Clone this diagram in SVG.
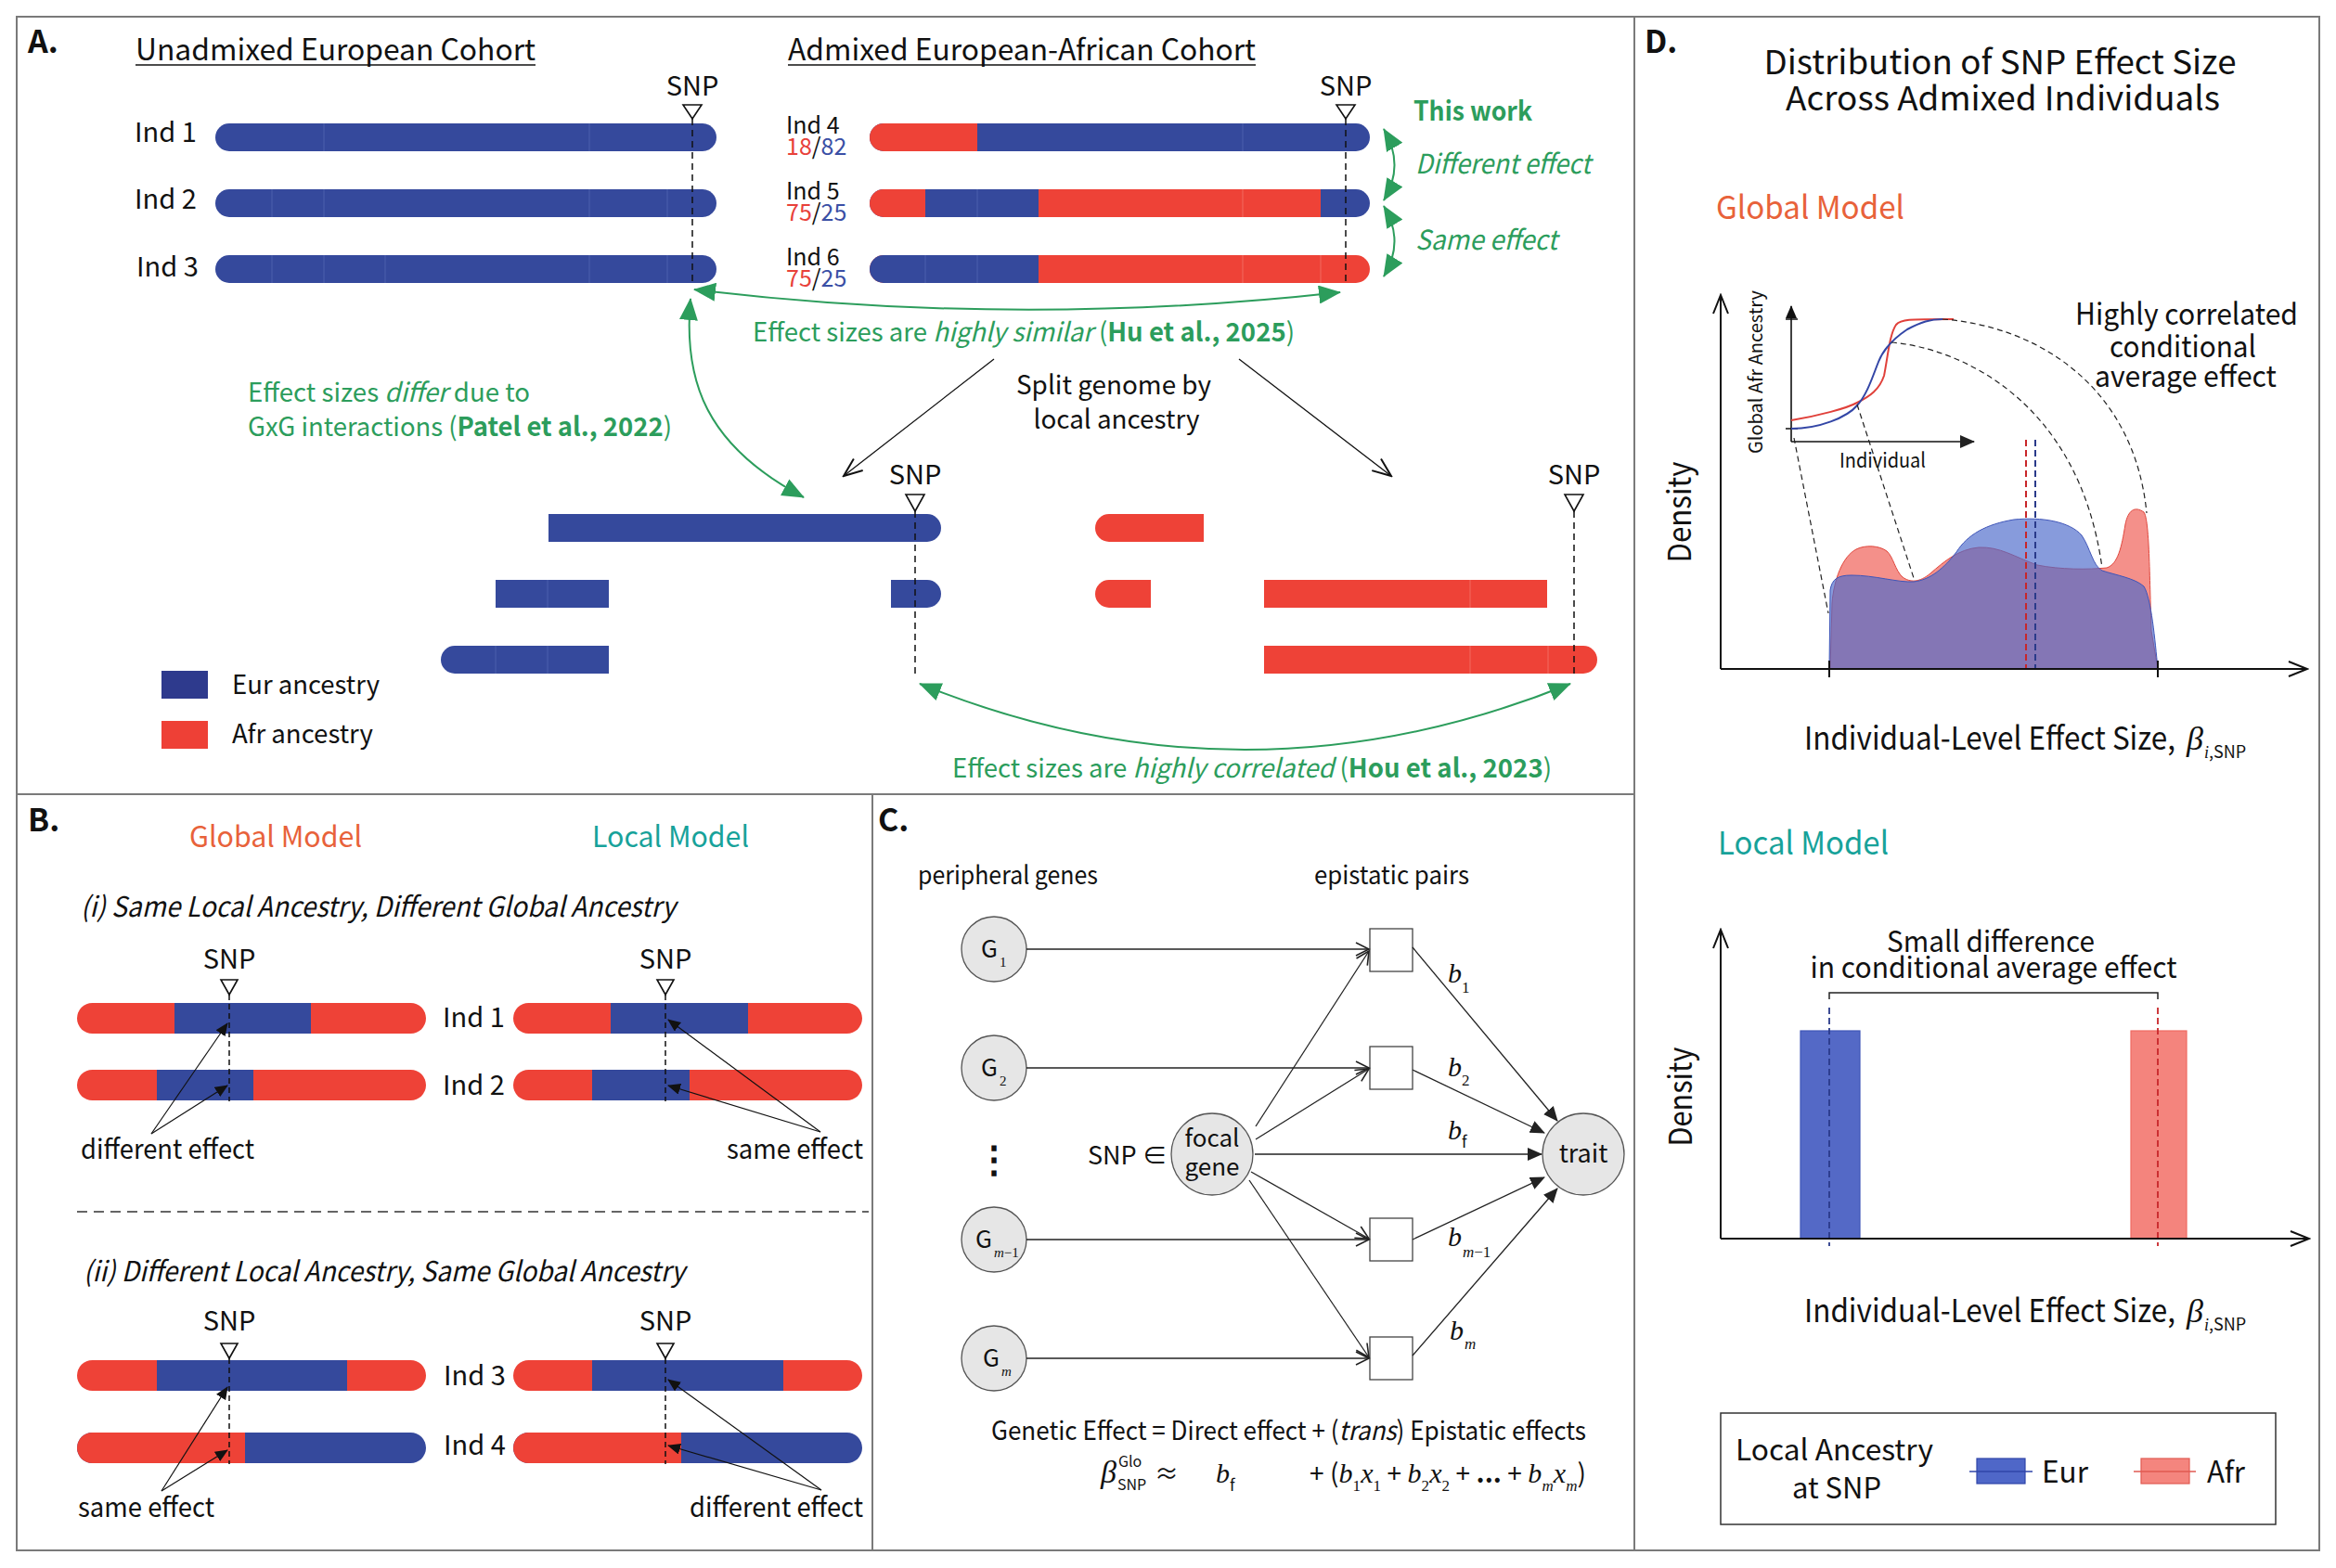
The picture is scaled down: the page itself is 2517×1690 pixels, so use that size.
<svg xmlns="http://www.w3.org/2000/svg" width="2517" height="1690" viewBox="0 0 2517 1690">
<style>
text{font-family:"Noto Sans CJK SC","Source Sans Pro",Lato,sans-serif;fill:#111}
.g{fill:#2C9D5C}
.it{font-style:italic}
.b{font-weight:bold}
.m{font-family:"Liberation Serif",serif;font-style:italic}
.mr{font-family:"Liberation Serif",serif;font-style:normal}
.sn{font-family:"Noto Sans CJK SC","Source Sans Pro",Lato,sans-serif;font-style:normal}
.eu{fill:#35499C}
.af{fill:#EE4237}
.seu{stroke:#4d60ad;stroke-width:1}
.saf{stroke:#f26a60;stroke-width:1}
.dash{stroke:#111;stroke-width:1.5;stroke-dasharray:7 5;fill:none}
.tri{fill:#fff;stroke:#111;stroke-width:1.6}
.frame{stroke:#7a7a7a;stroke-width:2;fill:none}
.garc{stroke:#2C9D5C;stroke-width:2;fill:none;marker-start:url(#ga);marker-end:url(#ga)}
.bl{stroke:#222;stroke-width:1.3;fill:none}
</style>
<defs>
<marker id="ga" markerUnits="userSpaceOnUse" markerWidth="24" markerHeight="20" viewBox="0 0 24 20" refX="23" refY="10" orient="auto-start-reverse"><path d="M0,0 L24,10 L0,20 Z" fill="#2C9D5C"/></marker>
<marker id="chev" markerUnits="userSpaceOnUse" markerWidth="18" markerHeight="18" viewBox="0 0 18 18" refX="16" refY="9" orient="auto"><path d="M2,2 L16,9 L2,16" fill="none" stroke="#222" stroke-width="1.6"/></marker>
<marker id="tri" markerUnits="userSpaceOnUse" markerWidth="14" markerHeight="12" viewBox="0 0 14 12" refX="13" refY="6" orient="auto"><path d="M0,0 L14,6 L0,12 Z" fill="#111"/></marker>
<marker id="tri2" markerUnits="userSpaceOnUse" markerWidth="16" markerHeight="16" viewBox="0 0 16 16" refX="15" refY="8" orient="auto"><path d="M0,1 L16,8 L0,15 Z" fill="#222"/></marker>
<marker id="achev" markerUnits="userSpaceOnUse" markerWidth="26" markerHeight="20" viewBox="0 0 26 20" refX="24" refY="10" orient="auto"><path d="M4,2 L24,10 L4,18" fill="none" stroke="#111" stroke-width="2"/></marker>
<clipPath id="cA1"><rect x="232" y="133" width="540" height="30" rx="15"/></clipPath>
<clipPath id="cA2"><rect x="232" y="204" width="540" height="30" rx="15"/></clipPath>
<clipPath id="cA3"><rect x="232" y="275" width="540" height="30" rx="15"/></clipPath>
<clipPath id="cA4"><rect x="937" y="133" width="539" height="30" rx="15"/></clipPath>
<clipPath id="cA5"><rect x="937" y="204" width="539" height="30" rx="15"/></clipPath>
<clipPath id="cA6"><rect x="937" y="275" width="539" height="30" rx="15"/></clipPath>
<clipPath id="cBL1"><rect x="83" y="1081" width="376" height="33" rx="16.5"/></clipPath>
<clipPath id="cBL2"><rect x="83" y="1153" width="376" height="33" rx="16.5"/></clipPath>
<clipPath id="cBL3"><rect x="83" y="1466" width="376" height="33" rx="16.5"/></clipPath>
<clipPath id="cBL4"><rect x="83" y="1544" width="376" height="33" rx="16.5"/></clipPath>
<clipPath id="cBR1"><rect x="553" y="1081" width="376" height="33" rx="16.5"/></clipPath>
<clipPath id="cBR2"><rect x="553" y="1153" width="376" height="33" rx="16.5"/></clipPath>
<clipPath id="cBR3"><rect x="553" y="1466" width="376" height="33" rx="16.5"/></clipPath>
<clipPath id="cBR4"><rect x="553" y="1544" width="376" height="33" rx="16.5"/></clipPath>
</defs>
<rect width="2517" height="1690" fill="#fff"/>

<!-- frames -->
<g id="frames">
<rect class="frame" x="18" y="18" width="2481" height="1653"/>
<line class="frame" x1="1761" y1="18" x2="1761" y2="1671"/>
<line class="frame" x1="18" y1="856" x2="1761" y2="856"/>
<line class="frame" x1="940" y1="856" x2="940" y2="1671"/>
</g>

<!-- ===== Panel A ===== -->
<g id="panelA">
<text x="30" y="57" font-size="34" class="b">A.</text>
<text x="146" y="65" font-size="32" textLength="431" lengthAdjust="spacingAndGlyphs">Unadmixed European Cohort</text>
<line x1="146" y1="70" x2="577" y2="70" stroke="#111" stroke-width="1.5"/>
<text x="849" y="65" font-size="32" textLength="504" lengthAdjust="spacingAndGlyphs">Admixed European-African Cohort</text>
<line x1="849" y1="70" x2="1353" y2="70" stroke="#111" stroke-width="1.5"/>

<g id="unadmixed">
<text x="145" y="153" font-size="29">Ind 1</text>
<text x="145" y="225" font-size="29">Ind 2</text>
<text x="147" y="298" font-size="29">Ind 3</text>
<g clip-path="url(#cA1)"><rect class="eu" x="232" y="133" width="540" height="30"/><path class="seu" d="M349,133V163M635,133V163"/></g>
<g clip-path="url(#cA2)"><rect class="eu" x="232" y="204" width="540" height="30"/><path class="seu" d="M293,204V234M349,204V234M635,204V234M719,204V234"/></g>
<g clip-path="url(#cA3)"><rect class="eu" x="232" y="275" width="540" height="30"/><path class="seu" d="M293,275V305M349,275V305M415,275V305M635,275V305M719,275V305"/></g>
<text x="746" y="103" font-size="29" text-anchor="middle">SNP</text>
<path class="tri" d="M736,113 L756,113 L746,128 Z"/>
<line class="dash" x1="746" y1="128" x2="746" y2="305"/>
</g>

<g id="admixed">
<text x="847" y="144" font-size="25">Ind 4</text>
<text x="847" y="167" font-size="25"><tspan fill="#E8413A" style="fill:#E8413A">18</tspan>/<tspan style="fill:#3A4FA5">82</tspan></text>
<text x="847" y="215" font-size="25">Ind 5</text>
<text x="847" y="238" font-size="25"><tspan style="fill:#E8413A">75</tspan>/<tspan style="fill:#3A4FA5">25</tspan></text>
<text x="847" y="286" font-size="25">Ind 6</text>
<text x="847" y="309" font-size="25"><tspan style="fill:#E8413A">75</tspan>/<tspan style="fill:#3A4FA5">25</tspan></text>
<g clip-path="url(#cA4)"><rect class="eu" x="937" y="133" width="539" height="30"/><rect class="af" x="937" y="133" width="116" height="30"/><path class="seu" d="M1339,133V163"/></g>
<g clip-path="url(#cA5)"><rect class="eu" x="937" y="204" width="539" height="30"/><rect class="af" x="937" y="204" width="60" height="30"/><rect class="af" x="1119" y="204" width="304" height="30"/><path class="seu" d="M1053,204V234"/><path class="saf" d="M1339,204V234"/></g>
<g clip-path="url(#cA6)"><rect class="af" x="937" y="275" width="539" height="30"/><rect class="eu" x="937" y="275" width="182" height="30"/><path class="seu" d="M997,275V305M1053,275V305"/><path class="saf" d="M1339,275V305M1423,275V305"/></g>
<text x="1450" y="103" font-size="29" text-anchor="middle">SNP</text>
<path class="tri" d="M1440,113 L1460,113 L1450,128 Z"/>
<line class="dash" x1="1450" y1="128" x2="1450" y2="305"/>
<text x="1523" y="130" font-size="29" class="g b" textLength="128" lengthAdjust="spacingAndGlyphs">This work</text>
<text x="1525" y="187" font-size="29" class="g it" textLength="189" lengthAdjust="spacingAndGlyphs">Different effect</text>
<text x="1525" y="269" font-size="29" class="g it" textLength="153" lengthAdjust="spacingAndGlyphs">Same effect</text>
</g>

<g id="split">
<path class="eu" d="M591,554 H999 A15,15 0 0 1 999,584 H591 Z"/>
<path class="af" d="M1195,554 H1297 V584 H1195 A15,15 0 0 1 1195,554 Z"/>
<rect class="eu" x="534" y="625" width="122" height="30"/><path class="seu" d="M590,625V655"/>
<path class="eu" d="M960,625 H999 A15,15 0 0 1 999,655 H960 Z"/>
<path class="af" d="M1195,625 H1240 V655 H1195 A15,15 0 0 1 1195,625 Z"/>
<rect class="af" x="1362" y="625" width="305" height="30"/><path class="saf" d="M1584,625V655"/>
<path class="eu" d="M490,696 H656 V726 H490 A15,15 0 0 1 490,696 Z"/><path class="seu" d="M534,696V726M590,696V726"/>
<path class="af" d="M1362,696 H1706 A15,15 0 0 1 1706,726 H1362 Z"/><path class="saf" d="M1584,696V726M1668,696V726"/>
<text x="986" y="522" font-size="29" text-anchor="middle">SNP</text>
<path class="tri" d="M976,533 L996,533 L986,551 Z"/>
<line class="dash" x1="986" y1="551" x2="986" y2="727"/>
<text x="1696" y="522" font-size="29" text-anchor="middle">SNP</text>
<path class="tri" d="M1686,533 L1706,533 L1696,551 Z"/>
<line class="dash" x1="1696" y1="551" x2="1696" y2="727"/>
</g>

<g id="legendA">
<rect x="174" y="723" width="50" height="30" fill="#2E3A8D"/>
<text x="250" y="748" font-size="28" textLength="159" lengthAdjust="spacingAndGlyphs">Eur ancestry</text>
<rect x="174" y="777" width="50" height="30" fill="#EE4036"/>
<text x="250" y="801" font-size="28" textLength="152" lengthAdjust="spacingAndGlyphs">Afr ancestry</text>
</g>

<g id="labelsA">
<text x="811" y="368" font-size="28" class="g" textLength="584" lengthAdjust="spacingAndGlyphs">Effect sizes are <tspan class="it">highly similar</tspan> (<tspan class="b">Hu et al., 2025</tspan>)</text>
<text x="267" y="433" font-size="28" class="g" textLength="304" lengthAdjust="spacingAndGlyphs">Effect sizes <tspan class="it">differ</tspan> due to</text>
<text x="267" y="470" font-size="28" class="g" textLength="457" lengthAdjust="spacingAndGlyphs">GxG interactions (<tspan class="b">Patel et al., 2022</tspan>)</text>
<text x="1200" y="425" font-size="28" text-anchor="middle" textLength="210" lengthAdjust="spacingAndGlyphs">Split genome by</text>
<text x="1203" y="462" font-size="28" text-anchor="middle" textLength="179" lengthAdjust="spacingAndGlyphs">local ancestry</text>
<text x="1026" y="838" font-size="28" class="g" textLength="646" lengthAdjust="spacingAndGlyphs">Effect sizes are <tspan class="it">highly correlated</tspan> (<tspan class="b">Hou et al., 2023</tspan>)</text>
</g>
</g>

<g id="connectorsA">
<path class="garc" d="M1491,139 Q1514,178 1491,216"/>
<path class="garc" d="M1491,222 Q1514,260 1491,298"/>
<path class="garc" d="M748,312 Q1095,354 1444,315"/>
<path class="garc" d="M744,322 C736,410 760,480 866,536"/>
<path class="garc" d="M991,737 Q1341,879 1692,737"/>
<path d="M1071,387 L909,513" stroke="#111" stroke-width="1.3" fill="none" marker-end="url(#achev)"/>
<path d="M1335,387 L1499,513" stroke="#111" stroke-width="1.3" fill="none" marker-end="url(#achev)"/>
</g>

<!-- ===== Panel B ===== -->
<g id="panelB">
<text x="30" y="896" font-size="34" class="b">B.</text>
<text x="204" y="913" font-size="31" style="fill:#E8623A" textLength="186" lengthAdjust="spacingAndGlyphs">Global Model</text>
<text x="638" y="913" font-size="31" style="fill:#17A29A" textLength="169" lengthAdjust="spacingAndGlyphs">Local Model</text>
<text x="87" y="988" font-size="30" class="it" textLength="641" lengthAdjust="spacingAndGlyphs">(i) Same Local Ancestry, Different Global Ancestry</text>
<text x="90" y="1381" font-size="30" class="it" textLength="648" lengthAdjust="spacingAndGlyphs">(ii) Different Local Ancestry, Same Global Ancestry</text>
<line x1="83" y1="1306" x2="936" y2="1306" stroke="#333" stroke-width="1.5" stroke-dasharray="11 7"/>

<g id="B-i">
<text x="247" y="1044" font-size="29" text-anchor="middle">SNP</text>
<path class="tri" d="M238,1056 L256,1056 L247,1072 Z"/>
<text x="717" y="1044" font-size="29" text-anchor="middle">SNP</text>
<path class="tri" d="M708,1056 L726,1056 L717,1072 Z"/>
<g clip-path="url(#cBL1)"><rect class="af" x="83" y="1081" width="376" height="33"/><rect class="eu" x="188" y="1081" width="147" height="33"/></g>
<g clip-path="url(#cBL2)"><rect class="af" x="83" y="1153" width="376" height="33"/><rect class="eu" x="169" y="1153" width="104" height="33"/></g>
<g clip-path="url(#cBR1)"><rect class="af" x="553" y="1081" width="376" height="33"/><rect class="eu" x="658" y="1081" width="148" height="33"/></g>
<g clip-path="url(#cBR2)"><rect class="af" x="553" y="1153" width="376" height="33"/><rect class="eu" x="638" y="1153" width="105" height="33"/></g>
<line class="dash" x1="247" y1="1072" x2="247" y2="1187" style="stroke-dasharray:6 4"/>
<line class="dash" x1="717" y1="1072" x2="717" y2="1187" style="stroke-dasharray:6 4"/>
<text x="477" y="1107" font-size="29">Ind 1</text>
<text x="477" y="1180" font-size="29">Ind 2</text>
<text x="87" y="1249" font-size="29" textLength="187" lengthAdjust="spacingAndGlyphs">different effect</text>
<text x="783" y="1249" font-size="29" textLength="147" lengthAdjust="spacingAndGlyphs">same effect</text>
</g>

<g id="B-ii">
<text x="247" y="1434" font-size="29" text-anchor="middle">SNP</text>
<path class="tri" d="M238,1448 L256,1448 L247,1464 Z"/>
<text x="717" y="1434" font-size="29" text-anchor="middle">SNP</text>
<path class="tri" d="M708,1448 L726,1448 L717,1464 Z"/>
<g clip-path="url(#cBL3)"><rect class="af" x="83" y="1466" width="376" height="33"/><rect class="eu" x="169" y="1466" width="205" height="33"/></g>
<g clip-path="url(#cBL4)"><rect class="eu" x="83" y="1544" width="376" height="33"/><rect class="af" x="83" y="1544" width="181" height="33"/></g>
<g clip-path="url(#cBR3)"><rect class="af" x="553" y="1466" width="376" height="33"/><rect class="eu" x="638" y="1466" width="206" height="33"/></g>
<g clip-path="url(#cBR4)"><rect class="eu" x="553" y="1544" width="376" height="33"/><rect class="af" x="553" y="1544" width="181" height="33"/></g>
<line class="dash" x1="247" y1="1464" x2="247" y2="1578" style="stroke-dasharray:6 4"/>
<line class="dash" x1="717" y1="1464" x2="717" y2="1578" style="stroke-dasharray:6 4"/>
<text x="478" y="1493" font-size="29">Ind 3</text>
<text x="478" y="1568" font-size="29">Ind 4</text>
<text x="84" y="1635" font-size="29" textLength="147" lengthAdjust="spacingAndGlyphs">same effect</text>
<text x="743" y="1635" font-size="29" textLength="187" lengthAdjust="spacingAndGlyphs">different effect</text>
</g>
</g>

<g id="connectorsB" stroke="#111" stroke-width="1.2" fill="none" marker-end="url(#tri)">
<path d="M163,1222 L245,1103"/>
<path d="M163,1222 L245,1170"/>
<path d="M884,1220 L720,1099"/>
<path d="M884,1220 L720,1170"/>
<path d="M174,1607 L245,1495"/>
<path d="M174,1607 L245,1563"/>
<path d="M885,1606 L720,1487"/>
<path d="M885,1606 L720,1558"/>
</g>

<!-- ===== Panel C ===== -->
<g id="panelC">
<text x="946" y="896" font-size="34" class="b">C.</text>
<text x="989" y="953" font-size="27" textLength="194" lengthAdjust="spacingAndGlyphs">peripheral genes</text>
<text x="1416" y="953" font-size="27" textLength="167" lengthAdjust="spacingAndGlyphs">epistatic pairs</text>
<text x="1172" y="1255" font-size="27">SNP ∈</text>
<text x="1071" y="1263" font-size="40" text-anchor="middle" font-weight="bold">⋮</text>
</g>
<g id="nodeG1"><circle cx="1071" cy="1023" r="35" fill="#E6E6E6" stroke="#555" stroke-width="1.3"/><text x="1057" y="1032" font-size="26">G<tspan class="mr" font-size="15" dx="2" dy="10">1</tspan></text></g>
<g id="nodeG2"><circle cx="1071" cy="1151" r="35" fill="#E6E6E6" stroke="#555" stroke-width="1.3"/><text x="1057" y="1160" font-size="26">G<tspan class="mr" font-size="15" dx="2" dy="10">2</tspan></text></g>
<g id="nodeGm1"><circle cx="1071" cy="1336" r="35" fill="#E6E6E6" stroke="#555" stroke-width="1.3"/><text x="1051" y="1345" font-size="26">G<tspan class="m" font-size="15" dx="2" dy="10">m</tspan><tspan class="mr" font-size="15">−1</tspan></text></g>
<g id="nodeGm"><circle cx="1071" cy="1464" r="35" fill="#E6E6E6" stroke="#555" stroke-width="1.3"/><text x="1059" y="1473" font-size="26">G<tspan class="m" font-size="15" dx="2" dy="10">m</tspan></text></g>
<g id="nodeFocal"><circle cx="1306" cy="1244" r="44" fill="#E6E6E6" stroke="#555" stroke-width="1.3"/><text x="1306" y="1236" font-size="26" text-anchor="middle">focal</text><text x="1306" y="1267" font-size="26" text-anchor="middle">gene</text></g>
<g id="nodeTrait"><circle cx="1706" cy="1244" r="44" fill="#E6E6E6" stroke="#555" stroke-width="1.3"/><text x="1706" y="1253" font-size="27" text-anchor="middle">trait</text></g>
<g id="nodeSq1"><rect x="1476" y="1001" width="46" height="46" fill="#fff" stroke="#444" stroke-width="1.3"/></g>
<g id="nodeSq2"><rect x="1476" y="1128" width="46" height="46" fill="#fff" stroke="#444" stroke-width="1.3"/></g>
<g id="nodeSq3"><rect x="1476" y="1313" width="46" height="46" fill="#fff" stroke="#444" stroke-width="1.3"/></g>
<g id="nodeSq4"><rect x="1476" y="1441" width="46" height="46" fill="#fff" stroke="#444" stroke-width="1.3"/></g>

<g id="connectorsC">
<g class="bl" marker-end="url(#chev)">
<path d="M1106,1023 H1475"/>
<path d="M1106,1151 H1475"/>
<path d="M1106,1336 H1475"/>
<path d="M1106,1464 H1475"/>
<path d="M1353,1214 L1475,1025"/>
<path d="M1353,1228 L1475,1152"/>
<path d="M1348,1263 L1475,1335"/>
<path d="M1346,1272 L1475,1463"/>
</g>
<g class="bl" marker-end="url(#tri2)">
<path d="M1352,1244 H1661"/>
<path d="M1522,1021 L1678,1208"/>
<path d="M1522,1153 L1664,1221"/>
<path d="M1522,1336 L1664,1269"/>
<path d="M1522,1461 L1678,1281"/>
</g>
</g>
<g id="blabels">
<text x="1560" y="1059" font-size="30" class="m">b<tspan class="mr" font-size="17" dx="0" dy="11">1</tspan></text>
<text x="1560" y="1160" font-size="30" class="m">b<tspan class="mr" font-size="17" dy="10">2</tspan></text>
<text x="1560" y="1228" font-size="30" class="m">b<tspan class="sn" font-size="17" dy="9">f</tspan></text>
<text x="1560" y="1343" font-size="30" class="m">b<tspan font-size="17" dx="1" dy="12">m</tspan><tspan class="mr" font-size="17">−1</tspan></text>
<text x="1562" y="1444" font-size="30" class="m">b<tspan font-size="17" dx="1" dy="10">m</tspan></text>
</g>
<g id="equation">
<text x="1068" y="1552" font-size="28" textLength="641" lengthAdjust="spacingAndGlyphs">Genetic Effect = Direct effect + (<tspan class="it">trans</tspan>) Epistatic effects</text>
<text x="1186" y="1598" font-size="34" class="m">β<tspan class="sn" font-size="16" x="1205" y="1581">Glo</tspan><tspan class="sn" font-size="16" x="1204" y="1606">SNP</tspan></text>
<text x="1244" y="1598" font-size="26">≈</text>
<text x="1310" y="1598" font-size="30" class="m">b<tspan class="sn" font-size="17" dy="9">f</tspan></text>
<text x="1411" y="1598" font-size="28" textLength="298" lengthAdjust="spacing">+ (<tspan class="m" font-size="30">b</tspan><tspan class="mr" font-size="17" dy="9">1</tspan><tspan class="m" font-size="30" dy="-9">x</tspan><tspan class="mr" font-size="17" dy="9">1</tspan><tspan dy="-9"> + </tspan><tspan class="m" font-size="30">b</tspan><tspan class="mr" font-size="17" dy="9">2</tspan><tspan class="m" font-size="30" dy="-9">x</tspan><tspan class="mr" font-size="17" dy="9">2</tspan><tspan dy="-9"> + </tspan><tspan font-weight="bold">...</tspan><tspan> + </tspan><tspan class="m" font-size="30">b</tspan><tspan class="m" font-size="17" dy="9">m</tspan><tspan class="m" font-size="30" dy="-9">x</tspan><tspan class="m" font-size="17" dy="9">m</tspan><tspan dy="-9">)</tspan></text>
</g>

<!-- ===== Panel D ===== -->
<g id="panelD">
<text x="1772" y="57" font-size="34" class="b">D.</text>
<text x="2155" y="80" font-size="36" text-anchor="middle" textLength="509" lengthAdjust="spacingAndGlyphs">Distribution of SNP Effect Size</text>
<text x="2158" y="119" font-size="36" text-anchor="middle" textLength="468" lengthAdjust="spacingAndGlyphs">Across Admixed Individuals</text>

<g id="globalPlot">
<text x="1849" y="236" font-size="34" style="fill:#E8623A" textLength="203" lengthAdjust="spacingAndGlyphs">Global Model</text>
<path d="M1972,721 L1974,650 C1976,625 1985,600 2000,592 C2010,587 2025,588 2033,594 C2040,600 2042,615 2050,622 C2058,628 2068,628 2080,618 C2095,605 2110,592 2132,590 C2155,589 2170,600 2195,609 C2220,614 2250,614 2270,612 C2282,608 2286,590 2290,565 C2293,550 2300,545 2310,552 C2316,560 2316,620 2318,680 L2325,721 Z" fill="#ED463C" fill-opacity="0.6" stroke="#e0463c" stroke-width="1"/>
<path d="M1971,721 L1972,636 C1974,624 1980,620 1995,620 C2020,620 2045,628 2062,627 C2080,625 2095,612 2108,595 C2120,576 2140,565 2170,560 C2200,557 2230,562 2243,577 C2252,590 2255,610 2265,615 C2280,620 2300,623 2310,632 C2318,645 2322,690 2325,721 Z" fill="#4C6ACB" fill-opacity="0.67" stroke="#3f55b8" stroke-width="1"/>
<line x1="2183" y1="474" x2="2183" y2="721" stroke="#C8262A" stroke-width="2" stroke-dasharray="7 4"/>
<line x1="2193" y1="474" x2="2193" y2="721" stroke="#2A3A8A" stroke-width="2" stroke-dasharray="7 4"/>
<path d="M1854,721 V318" stroke="#111" stroke-width="2" fill="none" marker-end="url(#achev)"/>
<path d="M1854,721 H2486" stroke="#111" stroke-width="2" fill="none" marker-end="url(#achev)"/>
<path d="M1971,712 V730 M2325,712 V730" stroke="#111" stroke-width="2"/>
<text transform="translate(1822,552) rotate(-90)" font-size="34" text-anchor="middle" textLength="109" lengthAdjust="spacingAndGlyphs">Density</text>
<text x="1944" y="808" font-size="34" textLength="400" lengthAdjust="spacingAndGlyphs">Individual-Level Effect Size,</text>
<text x="2356" y="808" font-size="36" class="m">β<tspan font-size="18" dx="1" dy="9">i</tspan><tspan class="sn" font-size="18">,SNP</tspan></text>
<path d="M1930,476 V330" stroke="#111" stroke-width="1.6" marker-end="url(#tri)"/>
<path d="M1930,476 H2127" stroke="#111" stroke-width="1.6" marker-end="url(#tri2)"/>
<path d="M1924,344 H1937 M1924,462 H1937" stroke="#111" stroke-width="1.4"/>
<path d="M1930,453 C1960,448 1990,440 2001,434 C2015,427 2025,420 2030,405 C2034,385 2036,360 2043,350 C2048,344 2055,344 2105,344" fill="none" stroke="#E0403A" stroke-width="2"/>
<path d="M1930,462 C1960,462 1990,450 2001,437 C2012,425 2018,405 2024,390 C2030,375 2040,365 2055,355 C2070,347 2080,344 2093,344" fill="none" stroke="#3346A6" stroke-width="2"/>
<g stroke="#222" stroke-width="1.2" stroke-dasharray="6 4" fill="none">
<path d="M1933,472 L1970,661"/>
<path d="M2001,436 L2062,623"/>
<path d="M2038,369 C2110,375 2240,430 2265,612"/>
<path d="M2093,344 C2200,352 2300,420 2313,553"/>
</g>
<text transform="translate(1899,401) rotate(-90)" font-size="20" text-anchor="middle" textLength="176" lengthAdjust="spacingAndGlyphs">Global Afr Ancestry</text>
<text x="1982" y="504" font-size="22" textLength="93" lengthAdjust="spacingAndGlyphs">Individual</text>
<text x="2356" y="350" font-size="32" text-anchor="middle" textLength="240" lengthAdjust="spacingAndGlyphs">Highly correlated</text>
<text x="2352" y="385" font-size="32" text-anchor="middle" textLength="158" lengthAdjust="spacingAndGlyphs">conditional</text>
<text x="2355" y="417" font-size="32" text-anchor="middle" textLength="196" lengthAdjust="spacingAndGlyphs">average effect</text>
</g>

<g id="localPlot">
<text x="1851" y="921" font-size="34" style="fill:#17A29A" textLength="184" lengthAdjust="spacingAndGlyphs">Local Model</text>
<text x="2145" y="1026" font-size="31" text-anchor="middle" textLength="224" lengthAdjust="spacingAndGlyphs">Small difference</text>
<text x="2148" y="1054" font-size="31" text-anchor="middle" textLength="395" lengthAdjust="spacingAndGlyphs">in conditional average effect</text>
<path d="M1971,1077 V1070 H2325 V1077" fill="none" stroke="#222" stroke-width="1.5"/>
<rect x="1940" y="1111" width="64" height="224" fill="#5469C6" stroke="#3f55b8" stroke-width="1.2"/>
<rect x="2296" y="1111" width="60" height="224" fill="#F4847D" stroke="#ee6a62" stroke-width="1.2"/>
<line x1="1971" y1="1086" x2="1971" y2="1343" stroke="#2A3A8A" stroke-width="1.8" stroke-dasharray="7 4"/>
<line x1="2325" y1="1086" x2="2325" y2="1343" stroke="#C8262A" stroke-width="1.8" stroke-dasharray="7 4"/>
<path d="M1854,1335 V1002" stroke="#111" stroke-width="2" fill="none" marker-end="url(#achev)"/>
<path d="M1854,1335 H2488" stroke="#111" stroke-width="2" fill="none" marker-end="url(#achev)"/>
<text transform="translate(1823,1182) rotate(-90)" font-size="34" text-anchor="middle" textLength="107" lengthAdjust="spacingAndGlyphs">Density</text>
<text x="1944" y="1425" font-size="34" textLength="400" lengthAdjust="spacingAndGlyphs">Individual-Level Effect Size,</text>
<text x="2356" y="1425" font-size="36" class="m">β<tspan font-size="18" dx="1" dy="9">i</tspan><tspan class="sn" font-size="18">,SNP</tspan></text>
</g>

<g id="legendD">
<rect x="1854" y="1523" width="598" height="120" fill="none" stroke="#333" stroke-width="1.5"/>
<text x="1870" y="1574" font-size="31" textLength="213" lengthAdjust="spacingAndGlyphs">Local Ancestry</text>
<text x="1979" y="1615" font-size="31" text-anchor="middle" textLength="96" lengthAdjust="spacingAndGlyphs">at SNP</text>
<rect x="2130" y="1572" width="52" height="27" fill="#4F67C8" stroke="#2f45a8" stroke-width="1.2"/>
<line x1="2122" y1="1586" x2="2190" y2="1586" stroke="#2f45a8" stroke-width="1.5"/>
<text x="2200" y="1598" font-size="32" textLength="50" lengthAdjust="spacingAndGlyphs">Eur</text>
<rect x="2307" y="1572" width="52" height="27" fill="#F4857E" stroke="#e05a52" stroke-width="1.2"/>
<line x1="2299" y1="1586" x2="2366" y2="1586" stroke="#e05a52" stroke-width="1.5"/>
<text x="2378" y="1598" font-size="32" textLength="41" lengthAdjust="spacingAndGlyphs">Afr</text>
</g>
</g>
</svg>
